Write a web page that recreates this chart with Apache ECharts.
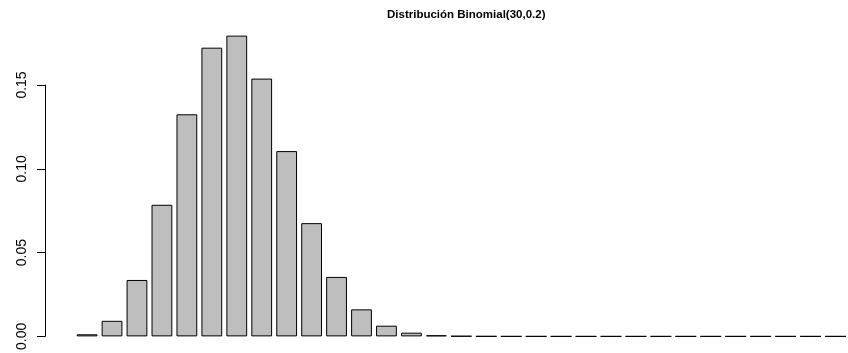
<!DOCTYPE html>
<html>
<head>
<meta charset="utf-8">
<script src="https://cdn.jsdelivr.net/npm/echarts@6/dist/echarts.min.js"></script>
<style>html,body{margin:0;padding:0;background:#fff}#c{width:848px;height:353px}</style>
</head>
<body>
<div id="c"></div>
<script>
var categories = ["0","1","2","3","4","5","6","7","8","9","10","11","12","13","14","15","16","17","18","19","20","21","22","23","24","25","26","27","28","29","30"];
var probs = [0.00124, 0.00928, 0.03366, 0.07853, 0.13252, 0.17228, 0.17946, 0.15382, 0.11056, 0.06756, 0.03548, 0.01613, 0.00638, 0.00221, 0.00067, 0.00018, 0.00004, 0.000009, 0.0000016, 0.00000025, 0.00000003, 0.000000004, 0.0000000004, 0.00000000004, 0.000000000003, 0.0000000000002, 0.00000000000001, 0.0000000000000007, 0.00000000000000003, 0.0000000000000000008, 0.00000000000000000001];
var yTicks = [0, 0.05, 0.10, 0.15];
var titleText = "Distribución Binomial(30,0.2)";

var chart = echarts.init(document.getElementById('c'), null, {renderer: 'canvas'});
chart.setOption({
  animation: false,
  title: {
    text: titleText,
    left: 387, top: 9,
    padding: 0,
    textStyle: {fontFamily: 'Liberation Sans', fontWeight: 'bold', fontSize: 11.5, color: '#000'}
  },
  grid: {left: 74.6, width: 783.4, top: 85, height: 255, containLabel: false},
  xAxis: {
    type: 'category', data: categories,
    show: false
  },
  yAxis: {
    type: 'value', min: yTicks[0], max: yTicks[yTicks.length - 1], interval: 0.05,
    offset: 29.6,
    axisLine: {show: true, lineStyle: {color: '#000', width: 1}},
    axisTick: {show: true, length: 8, lineStyle: {color: '#000'}},
    splitLine: {show: false},
    axisLabel: {
      rotate: 90, margin: 16,
      fontFamily: 'Liberation Sans', fontSize: 14, color: '#000',
      formatter: function (v) { return v.toFixed(2); }
    }
  },
  series: [{
    type: 'bar',
    data: probs,
    clip: false,
    barCategoryGap: '16.67%',
    itemStyle: {color: '#BEBEBE', borderColor: '#000', borderWidth: 1}
  }]
});
</script>
</body>
</html>
